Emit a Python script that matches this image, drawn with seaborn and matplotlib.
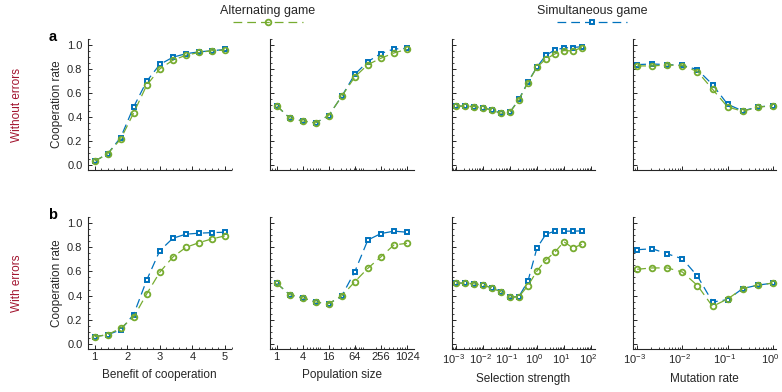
import numpy as np
import pandas as pd
import matplotlib
matplotlib.use("Agg")
import matplotlib.pyplot as plt
import matplotlib.transforms as mtransforms
import seaborn as sns
from matplotlib.ticker import (MultipleLocator, FixedLocator, FixedFormatter,
                               LogLocator, NullFormatter, LogFormatterSciNotation,
                               FormatStrFormatter)

# ---------------- data ----------------
benefit = [1.0, 1.4, 1.8, 2.2, 2.6, 3.0, 3.4, 3.8, 4.2, 4.6, 5.0]
ben_alt_a = [0.033, 0.094, 0.217, 0.436, 0.667, 0.803, 0.875, 0.917, 0.940, 0.955, 0.960]
ben_sim_a = [0.033, 0.094, 0.230, 0.486, 0.700, 0.840, 0.900, 0.930, 0.945, 0.955, 0.965]
ben_alt_b = [0.061, 0.078, 0.131, 0.222, 0.414, 0.592, 0.717, 0.797, 0.836, 0.867, 0.892]
ben_sim_b = [0.061, 0.078, 0.117, 0.244, 0.528, 0.769, 0.872, 0.906, 0.914, 0.919, 0.922]

popsize = [1, 2, 4, 8, 16, 32, 64, 128, 256, 512, 1024]
pop_alt_a = [0.497, 0.394, 0.369, 0.353, 0.414, 0.575, 0.736, 0.839, 0.892, 0.936, 0.967]
pop_sim_a = [0.497, 0.394, 0.369, 0.353, 0.414, 0.575, 0.758, 0.864, 0.931, 0.969, 0.975]
pop_alt_b = [0.503, 0.408, 0.381, 0.347, 0.333, 0.397, 0.514, 0.625, 0.719, 0.817, 0.831]
pop_sim_b = [0.503, 0.408, 0.381, 0.347, 0.333, 0.397, 0.597, 0.858, 0.911, 0.931, 0.922]

selection = [0.001, 0.00215, 0.00464, 0.01, 0.0215, 0.0464, 0.1, 0.215, 0.464,
             1.0, 2.15, 4.64, 10.0, 21.5, 46.4]
sel_alt_a = [0.494, 0.492, 0.489, 0.478, 0.461, 0.433, 0.442, 0.544, 0.689, 0.817,
             0.886, 0.928, 0.956, 0.953, 0.981]
sel_sim_a = [0.494, 0.492, 0.489, 0.478, 0.461, 0.433, 0.442, 0.550, 0.694, 0.819,
             0.917, 0.961, 0.978, 0.981, 0.989]
sel_alt_b = [0.503, 0.503, 0.497, 0.486, 0.464, 0.431, 0.386, 0.392, 0.481, 0.603,
             0.694, 0.758, 0.844, 0.792, 0.822]
sel_sim_b = [0.503, 0.503, 0.497, 0.486, 0.464, 0.431, 0.386, 0.392, 0.519, 0.792,
             0.906, 0.931, 0.931, 0.931, 0.933]

mutation = [0.001, 0.00215, 0.00464, 0.01, 0.0215, 0.0464, 0.1, 0.215, 0.464, 1.0]
mut_alt_a = [0.828, 0.828, 0.836, 0.831, 0.781, 0.633, 0.486, 0.450, 0.483, 0.497]
mut_sim_a = [0.839, 0.844, 0.839, 0.833, 0.797, 0.672, 0.508, 0.453, 0.486, 0.497]
mut_alt_b = [0.617, 0.628, 0.628, 0.594, 0.483, 0.311, 0.372, 0.458, 0.486, 0.503]
mut_sim_b = [0.778, 0.786, 0.744, 0.703, 0.561, 0.347, 0.367, 0.458, 0.486, 0.503]

x_labels = ["Benefit of cooperation", "Population size",
            "Selection strength", "Mutation rate"]
row_labels = ["Without errors", "With errors"]
panel_letters = ["a", "b"]
games = ["Alternating game", "Simultaneous game"]
pop_ticks = [1, 4, 16, 64, 256, 1024]

columns = [
    (benefit, (ben_alt_a, ben_sim_a), (ben_alt_b, ben_sim_b)),
    (popsize, (pop_alt_a, pop_sim_a), (pop_alt_b, pop_sim_b)),
    (selection, (sel_alt_a, sel_sim_a), (sel_alt_b, sel_sim_b)),
    (mutation, (mut_alt_a, mut_sim_a), (mut_alt_b, mut_sim_b)),
]

# ---------------- style ----------------
GREEN = "#77AC30"
BLUE = "#0072BD"
RED = "#A2142F"
AXC = "#262626"

sns.set_theme(style="ticks")
plt.rcParams["font.family"] = ["Liberation Sans", "DejaVu Sans"]
plt.rcParams["mathtext.fontset"] = "custom"
plt.rcParams["mathtext.rm"] = "Liberation Sans"
plt.rcParams["mathtext.it"] = "Liberation Sans:italic"
plt.rcParams["axes.edgecolor"] = AXC
plt.rcParams["axes.linewidth"] = 0.8
plt.rcParams["axes.unicode_minus"] = False

W, H = 782, 392
fig = plt.figure(figsize=(W / 100, H / 100), dpi=100)

lefts = [88, 270, 451.7, 632.7]
width = 143.5
rows_px = [(39.3, 170.0), (216.7, 349.0)]

dash = (0, (7, 4))
sim_kw = dict(marker="s", markersize=2.5, markeredgewidth=1.4,
              markeredgecolor=BLUE, markerfacecolor="white",
              linestyle=dash, linewidth=0.9, clip_on=False)
alt_kw = dict(marker="o", markersize=4.1, markeredgewidth=1.3,
              markeredgecolor=GREEN, markerfacecolor="none",
              linestyle=dash, linewidth=0.9, clip_on=False)

# power-of-ten labels sit a little left of their ticks
label_shift = mtransforms.ScaledTranslation(-3 / 100, 0, fig.dpi_scale_trans)

legend_handles = {}

for r, (top, bot) in enumerate(rows_px):
    for c, col in enumerate(columns):
        xs = col[0]
        alt_vals, sim_vals = col[1 + r]
        ax = fig.add_axes([lefts[c] / W, 1 - bot / H, width / W, (bot - top) / H])
        df = pd.DataFrame({
            "x": list(xs) * 2,
            "rate": list(sim_vals) + list(alt_vals),
            "game": [games[1]] * len(xs) + [games[0]] * len(xs),
        })
        sns.lineplot(data=df[df.game == games[1]], x="x", y="rate", ax=ax,
                     color=BLUE, **sim_kw)
        sim_line = ax.lines[-1]
        sns.lineplot(data=df[df.game == games[0]], x="x", y="rate", ax=ax,
                     color=GREEN, **alt_kw)
        alt_line = ax.lines[-1]
        legend_handles[games[0]] = alt_line
        legend_handles[games[1]] = sim_line

        sns.despine(ax=ax)
        ax.set_ylim(-0.04, 1.05)
        ax.yaxis.set_major_locator(MultipleLocator(0.2))
        ax.yaxis.set_minor_locator(MultipleLocator(0.05))
        ax.yaxis.set_major_formatter(FormatStrFormatter("%.1f"))

        if c == 0:
            ax.set_xlim(0.8, 5.2)
            ax.xaxis.set_major_locator(MultipleLocator(1))
            ax.xaxis.set_minor_locator(MultipleLocator(0.2))
            ax.xaxis.set_major_formatter(FormatStrFormatter("%d"))
        elif c == 1:
            ax.set_xscale("log", base=2)
            ax.set_xlim(2 ** -0.5, 2 ** 10.5)
            ax.xaxis.set_major_locator(FixedLocator(pop_ticks))
            ax.xaxis.set_major_formatter(FixedFormatter([str(t) for t in pop_ticks]))
            ax.xaxis.set_minor_locator(LogLocator(base=10, subs=np.arange(1, 10), numticks=50))
            ax.xaxis.set_minor_formatter(NullFormatter())
        else:
            ax.set_xscale("log")
            if c == 2:
                ax.set_xlim(10 ** -3.16, 10 ** 2.16)
            else:
                ax.set_xlim(10 ** -3.1, 10 ** 0.075)
            ax.xaxis.set_major_locator(LogLocator(base=10, numticks=20))
            ax.xaxis.set_major_formatter(LogFormatterSciNotation(base=10))
            ax.xaxis.set_minor_locator(LogLocator(base=10, subs=np.arange(2, 10), numticks=50))
            ax.xaxis.set_minor_formatter(NullFormatter())

        ax.tick_params(which="major", direction="in", length=2.6, width=0.7,
                       color=AXC, labelsize=8, labelcolor="#262626", pad=2.5)
        ax.tick_params(which="minor", direction="in", length=1.5, width=0.6, color=AXC)
        ax.tick_params(axis="x", labelbottom=(r == 1))
        ax.tick_params(axis="y", labelleft=(c == 0), pad=4)

        if c >= 2:
            for lab in ax.xaxis.get_majorticklabels():
                lab.set_transform(lab.get_transform() + label_shift)

        ax.set_xlabel(x_labels[c] if r == 1 else "", fontsize=8.5,
                      color="#262626", labelpad=5)
        ax.set_ylabel("Cooperation rate" if c == 0 else "", fontsize=8.5,
                      color="#262626", labelpad=3)

    # row label and panel letter
    fig.text(17 / W, 1 - (top + bot) / 2 / H, row_labels[r], rotation=90,
             color=RED, fontsize=8.5, ha="center", va="center")
    fig.text(53 / W, 1 - (top - 2) / H, panel_letters[r], fontsize=10.5,
             fontweight="bold", ha="center", va="center", color="black")

# game legends above the panels
for name, cx in [(games[0], 268), (games[1], 592)]:
    fig.legend(handles=[legend_handles[name]], labels=[""], title=name,
               loc="center", bbox_to_anchor=(cx / W, 1 - 17 / H),
               frameon=False, handlelength=5.6, handletextpad=0,
               borderpad=0, borderaxespad=0, numpoints=1,
               fontsize=9, title_fontsize=9, labelspacing=0)

fig.savefig("out.png", dpi=100)
